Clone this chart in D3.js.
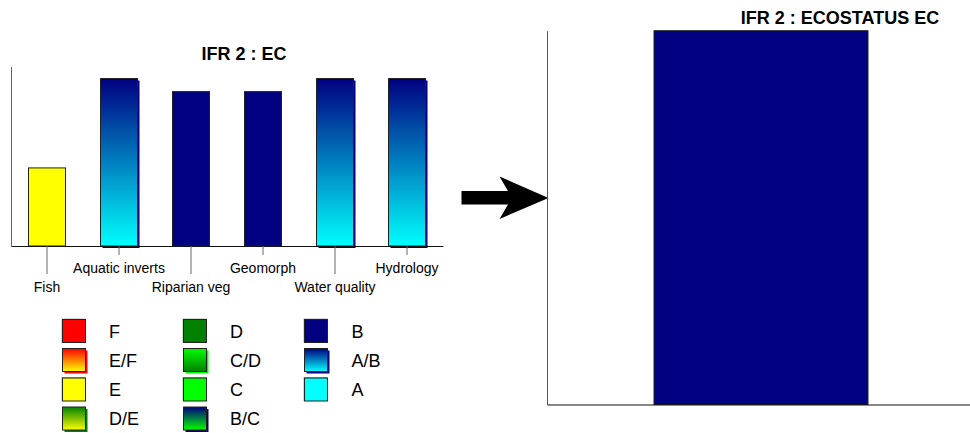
<!DOCTYPE html>
<html>
<head>
<meta charset="utf-8">
<script src="https://cdn.jsdelivr.net/npm/d3@7/dist/d3.min.js"></script>
<style>
  html, body { margin: 0; padding: 0; background: #fff; }
  svg { display: block; font-family: "Liberation Sans", Arial, sans-serif; }
</style>
</head>
<body>
<svg id="chart" width="970" height="433"></svg>
<script>
// ---- data ----
const categories = ["Fish", "Aquatic inverts", "Riparian veg", "Geomorph", "Water quality", "Hydrology"];
const classes    = ["E", "A/B", "B", "B", "A/B", "A/B"];
const values     = [43.5, 93.3, 86, 86, 93.3, 93.3];
const yDomain    = [0, 100];

const ecCategories = ["EcoStatus"];
const ecClasses    = ["B"];
const ecValues     = [86];

const legendClasses = [
  ["F", "E/F", "E", "D/E"],
  ["D", "C/D", "C", "B/C"],
  ["B", "A/B", "A"]
];
// class -> [top colour, bottom colour]
const classColours = {
  "F":   ["#ff0000", "#ff0000"],
  "E/F": ["#ff0000", "#ffff00"],
  "E":   ["#ffff00", "#ffff00"],
  "D/E": ["#008000", "#ffff00"],
  "D":   ["#008000", "#008000"],
  "C/D": ["#00ff00", "#008000"],
  "C":   ["#00ff00", "#00ff00"],
  "B/C": ["#000080", "#00ff00"],
  "B":   ["#000080", "#000080"],
  "A/B": ["#000080", "#00ffff"],
  "A":   ["#00ffff", "#00ffff"]
};

const svg = d3.select("#chart");
const defs = svg.append("defs");
const gid = c => "g_" + c.replace("/", "_");
Object.entries(classColours).forEach(([k, [top, bot]]) => {
  const g = defs.append("linearGradient").attr("id", gid(k))
    .attr("x1", 0).attr("y1", 0).attr("x2", 0).attr("y2", 1);
  g.append("stop").attr("offset", "0%").attr("stop-color", top);
  g.append("stop").attr("offset", "100%").attr("stop-color", bot);
});
const isGrad = c => classColours[c][0] !== classColours[c][1];
const fillOf = c => isGrad(c) ? `url(#${gid(c)})` : classColours[c][0];

// ---- left chart ----
const L = { x0: 11, x1: 443, top: 66.5, base: 246 };
const x = d3.scaleBand().domain(categories).range([L.x0, L.x1])
  .paddingInner(0.486).paddingOuter(0.243);
const y = d3.scaleLinear().domain(yDomain).range([L.base, L.top]);

const left = svg.append("g");
left.append("text").attr("x", 244).attr("y", 59.5)
  .attr("text-anchor", "middle").attr("font-weight", "bold")
  .attr("font-size", 18).text("IFR 2 : EC");

const rows = categories.map((c, i) => ({ c, cls: classes[i], v: values[i] }));
// shadows
left.selectAll("rect.sh").data(rows.filter(d => isGrad(d.cls))).join("rect")
  .attr("class", "sh")
  .attr("x", d => x(d.c) + 2).attr("y", d => y(d.v) + 2)
  .attr("width", x.bandwidth()).attr("height", d => y(0) - y(d.v))
  .attr("fill", d => classColours[d.cls][0]);
left.selectAll("rect.bar").data(rows).join("rect")
  .attr("class", "bar")
  .attr("x", d => x(d.c)).attr("y", d => y(d.v))
  .attr("width", x.bandwidth()).attr("height", d => y(0) - y(d.v))
  .attr("fill", d => fillOf(d.cls))
  .attr("stroke", "#222").attr("stroke-width", 1);

// axes
const xAxis = left.append("g").attr("transform", `translate(0,${L.base})`)
  .call(d3.axisBottom(x).tickSizeOuter(0).tickSize(0).tickPadding(0));
xAxis.select(".domain").attr("stroke", "#111");
xAxis.selectAll(".tick line").attr("stroke", "#666")
  .attr("y2", (d, i) => i % 2 === 0 ? 28 : 9);
xAxis.selectAll(".tick text").attr("fill", "#000").attr("font-size", 14)
  .attr("font-family", "Liberation Sans, Arial, sans-serif")
  .attr("dy", 0)
  .attr("y", (d, i) => i % 2 === 0 ? 46 : 27);

const yAxis = left.append("g").attr("transform", `translate(${L.x0},0)`)
  .call(d3.axisLeft(y).ticks(0).tickSize(0).tickSizeOuter(0));
yAxis.select(".domain").attr("stroke", "#666");
yAxis.selectAll(".tick").remove();

// ---- legend ----
const lg = svg.append("g");
const colX = [62.5, 183.5, 304.5];
const textX = [109, 230, 351.5];
const rowY = [319.5, 348.5, 378, 407];
legendClasses.forEach((col, ci) => {
  col.forEach((c, ri) => {
    const gx = colX[ci], gy = rowY[ri];
    if (isGrad(c)) {
      lg.append("rect").attr("x", gx + 2).attr("y", gy + 2).attr("width", 23).attr("height", 23)
        .attr("fill", classColours[c][0]);
    } else {
      lg.append("rect").attr("x", gx - 1).attr("y", gy - 1).attr("width", 24).attr("height", 24)
        .attr("fill", "#b0b0b0");
    }
    lg.append("rect").attr("x", gx).attr("y", gy).attr("width", 23).attr("height", 23)
      .attr("fill", fillOf(c)).attr("stroke", "#222").attr("stroke-width", 1);
    lg.append("text").attr("x", textX[ci]).attr("y", gy + 12)
      .attr("dominant-baseline", "central").attr("font-size", 18).text(c);
  });
});

// ---- arrow ----
svg.append("path")
  .attr("d", "M461.5,191 L508,191 L499.5,176.5 L548.5,198 L499.5,219 L508,204.5 L461.5,204.5 Z")
  .attr("fill", "#000");

// ---- right chart ----
const R = { x0: 547, x1: 970, top: 30.7, base: 404.5 };
const xr = d3.scaleBand().domain(ecCategories).range([R.x0, R.x1 + 5])
  .paddingInner(0).paddingOuter(0.5);
const yr = d3.scaleLinear().domain([0, d3.max(ecValues)]).range([R.base, R.top]);

const right = svg.append("g");
right.append("text").attr("x", 840).attr("y", 23.5)
  .attr("text-anchor", "middle").attr("font-weight", "bold")
  .attr("font-size", 18).text("IFR 2 : ECOSTATUS EC");

right.selectAll("rect.bar").data(ecCategories.map((c, i) => ({ c, cls: ecClasses[i], v: ecValues[i] })))
  .join("rect").attr("class", "bar")
  .attr("x", d => xr(d.c)).attr("y", d => yr(d.v))
  .attr("width", xr.bandwidth()).attr("height", d => yr(0) - yr(d.v))
  .attr("fill", d => fillOf(d.cls)).attr("stroke", "#222");

const xrAxis = right.append("g").attr("transform", `translate(0,${R.base})`)
  .call(d3.axisBottom(d3.scaleLinear().range([R.x0, R.x1])).ticks(0).tickSize(0).tickSizeOuter(0));
xrAxis.select(".domain").attr("stroke", "#111");
xrAxis.selectAll(".tick").remove();
const yrAxis = right.append("g").attr("transform", `translate(${R.x0},0)`)
  .call(d3.axisLeft(yr).ticks(0).tickSize(0).tickSizeOuter(0));
yrAxis.select(".domain").attr("stroke", "#555");
yrAxis.selectAll(".tick").remove();
</script>
</body>
</html>
